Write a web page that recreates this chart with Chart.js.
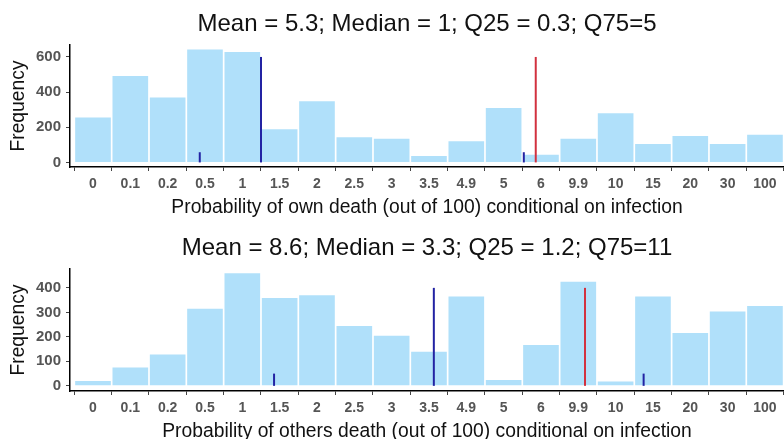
<!DOCTYPE html>
<html>
<head>
<meta charset="utf-8">
<script src="https://cdn.jsdelivr.net/npm/chart.js@4.4.1/dist/chart.umd.min.js"></script>
<style>
  html, body { margin: 0; padding: 0; background: #ffffff; overflow: hidden; width: 784px; height: 439px; }
  canvas { position: absolute; left: 0; }
  #c1 { top: 0px; }
  #c2 { top: 224px; }
</style>
</head>
<body>
<canvas id="c1" width="784" height="220"></canvas>
<canvas id="c2" width="784" height="220"></canvas>
<script>
// ---------- data ----------
const xLabels = ['0','0.1','0.2','0.5','1','1.5','2','2.5','3','3.5','4.9','5','6','9.9','10','15','20','30','100'];

const ownFreq    = [255, 491, 370, 643, 628, 189, 348, 143, 134, 37, 120, 310, 43, 135, 280, 105, 150, 105, 158];
const othersFreq = [20, 75, 128, 315, 460, 359, 370, 244, 205, 139, 365, 24, 167, 425, 18, 365, 216, 304, 326];

// summary markers: [Q25, median, Q75, mean] position on the category axis and line height
const statNames = ['Q25', 'Median', 'Q75', 'Mean'];
const ownStatPos       = [2.86, 4.5, 11.54, 11.86];
const ownStatHeight    = [58, 600, 58, 600];
const othersStatPos    = [4.85, 9.13, 14.75, 13.18];
const othersStatHeight = [50, 400, 50, 400];

const ownYTicks    = [0, 200, 400, 600];
const othersYTicks = [0, 100, 200, 300, 400];

const ownTitle    = 'Mean = 5.3; Median = 1; Q25 = 0.3; Q75=5';
const othersTitle = 'Mean = 8.6; Median = 3.3; Q25 = 1.2; Q75=11';
const ownXTitle    = 'Probability of own death (out of 100) conditional on infection';
const othersXTitle = 'Probability of others death (out of 100) conditional on infection';
const yTitle = 'Frequency';

// ---------- styling ----------
const FONT = "'Liberation Sans', Arial, sans-serif";
const statColors = ['#2323a3', '#2323a3', '#2323a3', '#d2313f'];

function makeChart(canvasId, freq, statPos, statHeight, yTicks, yMin, yMax, title, xTitle) {
  const datasets = [];
  statPos.forEach((p, i) => {
    datasets.push({
      type: 'line',
      label: statNames[i],
      data: [{x: p, y: 0}, {x: p, y: statHeight[i]}],
      borderColor: statColors[i],
      borderWidth: 2,
      pointRadius: 0,
      fill: false,
      order: 0
    });
  });
  datasets.push({
    type: 'bar',
    label: 'Frequency',
    data: freq.map((v, i) => ({x: i, y: v})),
    backgroundColor: '#b0e0fa',
    borderWidth: 0,
    categoryPercentage: 1.0,
    barPercentage: 0.955,
    order: 10
  });

  return new Chart(document.getElementById(canvasId), {
    type: 'bar',
    data: { datasets },
    options: {
      responsive: false,
      animation: false,
      devicePixelRatio: 1,
      layout: { padding: 0 },
      plugins: {
        legend: { display: false },
        tooltip: { enabled: false },
        title: {
          display: true,
          fullSize: false,
          text: title,
          color: '#111111',
          font: { family: FONT, size: 24, weight: 'normal' },
          padding: { top: 10, bottom: 6.2 }
        }
      },
      scales: {
        x: {
          type: 'linear',
          min: -0.616,
          max: 18.51,
          offset: false,
          afterBuildTicks: (s) => { s.ticks = xLabels.map((_, i) => ({ value: i })); },
          afterFit: (s) => { s.height = 53; s.paddingLeft = 0; s.paddingRight = 0; },
          ticks: {
            autoSkip: false,
            maxRotation: 0,
            minRotation: 0,
            padding: 5,
            color: '#555555',
            font: { family: FONT, size: 14, weight: 'bold' },
            callback: (v) => xLabels[Math.round(v)]
          },
          grid: {
            display: true,
            drawOnChartArea: false,
            drawTicks: true,
            tickLength: 4,
            tickColor: '#444444',
            tickWidth: 1
          },
          border: { display: true, color: '#000000', width: 1.5 },
          title: {
            display: true,
            text: xTitle,
            color: '#111111',
            font: { family: FONT, size: 19.3 },
            padding: { top: 0, bottom: 1 }
          }
        },
        y: {
          type: 'linear',
          min: yMin,
          max: yMax,
          afterBuildTicks: (s) => { s.ticks = yTicks.map(v => ({ value: v })); },
          afterFit: (s) => { s.width = 70; s.paddingTop = 0; s.paddingBottom = 0; },
          ticks: {
            padding: 5,
            color: '#555555',
            font: { family: FONT, size: 15, weight: 'bold' }
          },
          grid: {
            display: true,
            drawOnChartArea: false,
            drawTicks: true,
            tickLength: 4,
            tickColor: '#444444',
            tickWidth: 1
          },
          border: { display: true, color: '#000000', width: 1.5 },
          title: {
            display: true,
            text: yTitle,
            color: '#111111',
            font: { family: FONT, size: 19.3 },
            padding: { top: 7, bottom: 0 }
          }
        }
      }
    }
  });
}

makeChart('c1', ownFreq, ownStatPos, ownStatHeight, ownYTicks, -26, 668, ownTitle, ownXTitle);
makeChart('c2', othersFreq, othersStatPos, othersStatHeight, othersYTicks, -21, 477, othersTitle, othersXTitle);
</script>
</body>
</html>
